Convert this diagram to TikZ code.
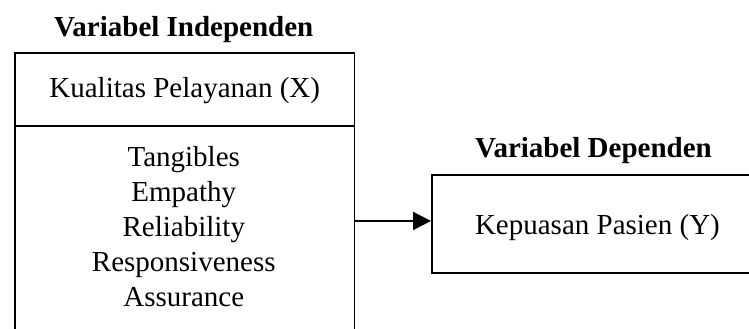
\documentclass[tikz,border=0pt]{standalone}
\usepackage{fontspec}
\setmainfont{Liberation Serif}
\usetikzlibrary{arrows.meta}
\begin{document}
\begin{tikzpicture}[x=1pt,y=-1pt,
  box/.style={draw, line width=1.9pt, inner sep=0pt, anchor=north west},
  txt/.style={font=\fontsize{29}{35}\selectfont},
  title/.style={font=\fontsize{29}{35}\selectfont\bfseries, anchor=base, inner sep=0pt},
  conn/.style={line width=1.9pt, -{Triangle[length=18pt,width=18pt]}}]
\useasboundingbox (0,0) rectangle (749,329);
\clip (0,0) rectangle (749,329);
\node[title] (t1) at (183.75,37) {Variabel Independen};
\node[title] (t2) at (593.5,157) {Variabel Dependen};
\node[box, txt, minimum width=339.5pt, minimum height=73pt, text height=16.4pt, text depth=0pt] (kual) at (14,52) {Kualitas Pelayanan (X)};
\node[box, minimum width=339.5pt, minimum height=225pt] (dims) at (14,125) {};
\node[txt, align=center, inner sep=0pt] (dimtext) at (183.75,226.3) {Tangibles\\Empathy\\Reliability\\Responsiveness\\Assurance};
\node[box, txt, minimum width=335pt, minimum height=98pt, text height=21pt, text depth=0pt] (kep) at (431,174) {Kepuasan Pasien (Y)\hspace*{4pt}};
\draw[conn] ([yshift=3pt]dims.east |- kep.west) -- ([yshift=3pt]kep.west);
\end{tikzpicture}
\end{document}
